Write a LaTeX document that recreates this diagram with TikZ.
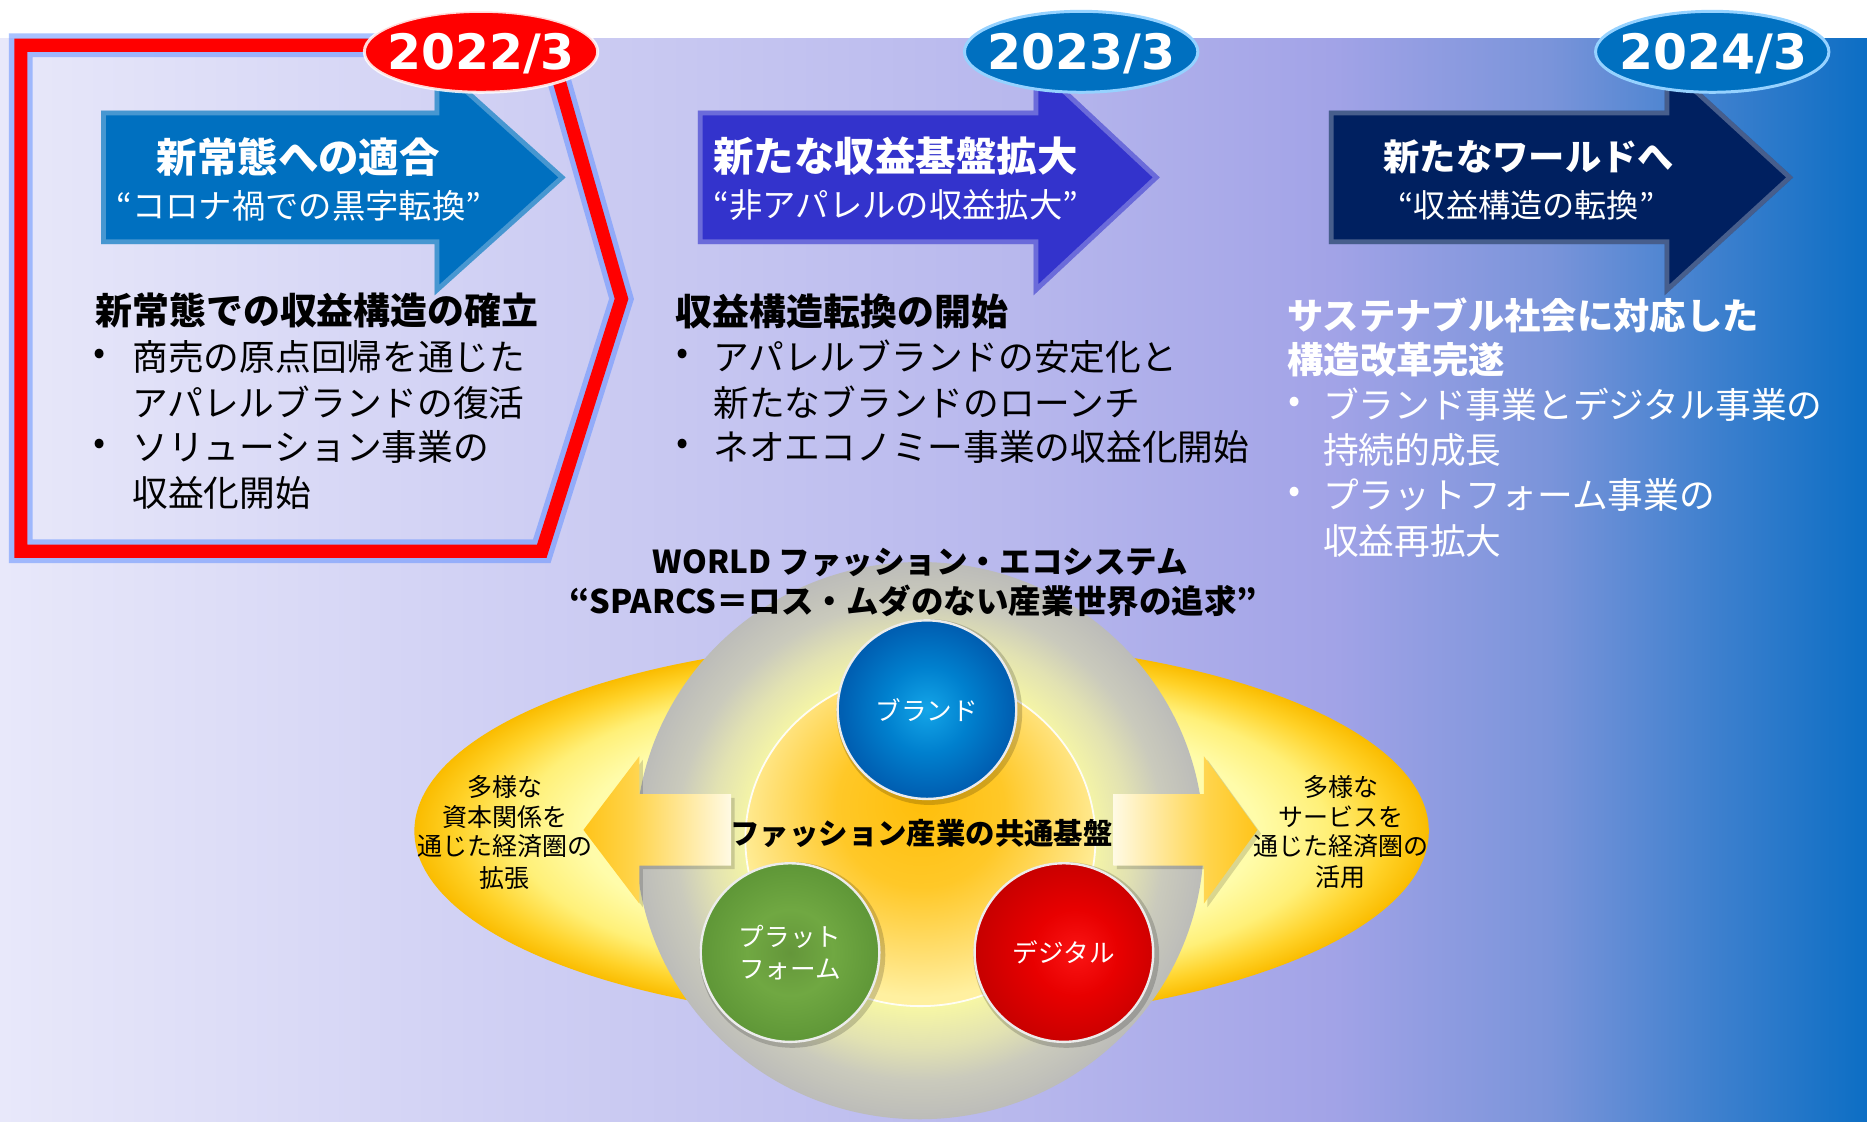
\documentclass[tikz,border=0pt]{standalone}
\usepackage{fontspec}
\setmainfont{Noto Sans CJK JP}
\newfontfamily\yearfont{DejaVu Sans}
\usetikzlibrary{shapes.geometric}

\definecolor{bg0}{RGB}{232,232,250}
\definecolor{bg1}{RGB}{206,206,243}
\definecolor{bg2}{RGB}{184,184,237}
\definecolor{bg3}{RGB}{162,163,231}
\definecolor{bg4}{RGB}{122,148,218}
\definecolor{bg5}{RGB}{62,128,206}
\definecolor{bg6}{RGB}{12,110,196}
\pgfdeclarehorizontalshading{bgsh}{100bp}{color(0bp)=(bg0); color(25bp)=(bg0); color(39.3bp)=(bg1); color(52.1bp)=(bg2); color(60.7bp)=(bg3); color(66.5bp)=(bg4); color(70.9bp)=(bg5); color(75bp)=(bg6); color(100bp)=(bg6)}

\definecolor{arrA}{RGB}{0,112,192}
\definecolor{arrB}{RGB}{51,51,204}
\definecolor{arrC}{RGB}{0,32,96}
\definecolor{yrblue}{RGB}{0,112,192}
\definecolor{yrrim}{RGB}{150,210,255}
\definecolor{yrred}{RGB}{255,0,0}
\definecolor{frred}{RGB}{255,0,0}
\definecolor{frglow}{RGB}{100,145,255}

\definecolor{ye0}{RGB}{255,255,192}
\definecolor{ye1}{RGB}{255,252,170}
\definecolor{ye2}{RGB}{255,240,120}
\definecolor{ye3}{RGB}{255,210,40}
\definecolor{ye4}{RGB}{250,188,0}
\pgfdeclareradialshading{yelsh}{\pgfpointorigin}{color(0bp)=(ye0); color(16.5bp)=(ye1); color(20bp)=(ye2); color(23bp)=(ye3); color(25bp)=(ye4); color(50bp)=(ye4)}

\definecolor{gr0}{RGB}{255,255,175}
\definecolor{gr1}{RGB}{246,246,165}
\definecolor{gr2}{RGB}{226,226,178}
\definecolor{gr3}{RGB}{202,202,188}
\definecolor{gr4}{RGB}{188,188,185}
\pgfdeclareradialshading{grsh}{\pgfpointorigin}{color(0bp)=(gr0); color(15bp)=(gr1); color(18.5bp)=(gr2); color(21.5bp)=(gr3); color(25bp)=(gr4); color(50bp)=(gr4)}

\definecolor{go0}{RGB}{255,190,10}
\definecolor{go1}{RGB}{255,200,40}
\definecolor{go2}{RGB}{255,225,120}
\definecolor{go3}{RGB}{255,240,160}
\pgfdeclareradialshading{gosh}{\pgfpoint{0bp}{6bp}}{color(0bp)=(go0); color(12bp)=(go1); color(22bp)=(go2); color(27bp)=(go3); color(60bp)=(go3)}

\definecolor{sa0}{RGB}{255,196,25}
\definecolor{sa1}{RGB}{255,212,75}
\definecolor{sa2}{RGB}{255,250,228}
\pgfdeclarehorizontalshading{lash}{100bp}{color(0bp)=(sa0); color(25bp)=(sa0); color(42bp)=(sa1); color(75bp)=(sa2); color(100bp)=(sa2)}
\pgfdeclarehorizontalshading{rash}{100bp}{color(0bp)=(sa2); color(25bp)=(sa2); color(58bp)=(sa1); color(75bp)=(sa0); color(100bp)=(sa0)}

\definecolor{bl0}{RGB}{20,165,232}
\definecolor{bl1}{RGB}{0,128,206}
\definecolor{bl2}{RGB}{0,95,178}
\pgfdeclareradialshading{blsh}{\pgfpointorigin}{color(0bp)=(bl0); color(12bp)=(bl1); color(24bp)=(bl2); color(25bp)=(bl2); color(50bp)=(bl2)}
\definecolor{gn0}{RGB}{100,150,58}
\definecolor{gn1}{RGB}{112,168,66}
\definecolor{gn2}{RGB}{96,152,56}
\pgfdeclareradialshading{gnsh}{\pgfpointorigin}{color(0bp)=(gn0); color(12bp)=(gn1); color(24bp)=(gn2); color(25bp)=(gn2); color(50bp)=(gn2)}
\definecolor{rd0}{RGB}{250,20,20}
\definecolor{rd1}{RGB}{232,0,0}
\definecolor{rd2}{RGB}{200,0,0}
\pgfdeclareradialshading{rdsh}{\pgfpoint{4bp}{0bp}}{color(0bp)=(rd0); color(12bp)=(rd1); color(26bp)=(rd2); color(50bp)=(rd2)}

\newcommand\blkarr[4]{%
  \fill[#4] (#1,93) -- (#2,93) -- (#2,50) -- (#3,149) -- (#2,248) -- (#2,205) -- (#1,205) -- cycle;
  \begin{scope}
    \clip (#1,93) -- (#2,93) -- (#2,50) -- (#3,149) -- (#2,248) -- (#2,205) -- (#1,205) -- cycle;
    \draw[white, opacity=.28, line width=8, line join=miter] (#1,93) -- (#2,93) -- (#2,50) -- (#3,149) -- (#2,248) -- (#2,205) -- (#1,205) -- cycle;
  \end{scope}}

\tikzset{
  ttl/.style={font=\fontsize{#1}{#1}\selectfont\bfseries, text=white, inner sep=0pt, anchor=center},
  subttl/.style={font=\fontsize{#1}{#1}\selectfont, text=white, inner sep=0pt, anchor=center},
  yeartxt/.style={font=\yearfont\fontsize{41}{41}\selectfont\bfseries, text=white, inner sep=0pt, anchor=center},
  bhead/.style={font=\fontsize{#1}{#1}\selectfont\bfseries, inner sep=0pt, anchor=west},
  btxt/.style={font=\fontsize{30}{30}\selectfont, inner sep=0pt, anchor=west},
  bdot/.style={font=\fontsize{30}{30}\selectfont, inner sep=0pt, anchor=center},
  wtitle/.style={font=\fontsize{#1}{#1}\selectfont\bfseries, text=black, inner sep=0pt, anchor=center},
  coretxt/.style={font=\fontsize{24.7}{24.7}\selectfont\bfseries, text=black, inner sep=0pt, anchor=center},
  sidetxt/.style={font=\fontsize{21}{21}\selectfont, text=black, inner sep=0pt, anchor=center},
  ball/.style={circle, minimum size=150pt, inner sep=0pt, draw=white!85!gray, line width=2pt, text=white, font=\fontsize{21.5}{27}\selectfont, align=center},
  ballshadow/.style={fill=black, opacity=.18}
}

\begin{document}
\begin{tikzpicture}[x=1pt,y=-1pt]
\useasboundingbox (0,0) rectangle (1568,942);
\clip (0,0) rectangle (1568,942);
\fill[white] (0,0) rectangle (1568,942);
\shade[shading=bgsh] (0,32) rectangle (1568,942);

% red frame
\draw[frglow, opacity=.55, line width=20pt, line join=miter] (17.5,38) -- (461,38) -- (522,251) -- (455,463) -- (17.5,463) -- cycle;
\draw[frred, line width=11pt, line join=miter] (17.5,38) -- (461,38) -- (522,251) -- (455,463) -- (17.5,463) -- cycle;

% block arrows
\blkarr{85}{365}{475}{arrA}
\blkarr{586}{868}{974}{arrB}
\blkarr{1116}{1398}{1506}{arrC}

% year ellipses
\fill[yrred] (404,43.5) ellipse [x radius=98, y radius=34];
\draw[white, opacity=.85, line width=2.5pt] (404,43.5) ellipse [x radius=98, y radius=34];
\fill[yrblue] (908,43.5) ellipse [x radius=98, y radius=34];
\draw[yrrim, line width=2.5pt] (908,43.5) ellipse [x radius=98, y radius=34];
\fill[yrblue] (1438,43.5) ellipse [x radius=98, y radius=34];
\draw[yrrim, line width=2.5pt] (1438,43.5) ellipse [x radius=98, y radius=34];
\node[yeartxt] (y22) at (404,45) {2022/3};
\node[yeartxt] (y23) at (908,45) {2023/3};
\node[yeartxt] (y24) at (1439,45) {2024/3};

% arrow texts
\node[ttl=34] (t1a) at (250.5,131.5) {新常態への適合};
\node[subttl=28] (t1b) at (251,173) {“コロナ禍での黒字転換”};
\node[ttl=34] (t2a) at (752,131.5) {新たな収益基盤拡大};
\node[subttl=28] (t2b) at (752.5,172) {“非アパレルの収益拡大”};
\node[ttl=30.5] (t3a) at (1284,132) {新たなワールドへ};
\node[subttl=27] (t3b) at (1282,172) {“収益構造の転換”};

% block 1
\node[bhead=31] (b1h) at (80,261) {新常態での収益構造の確立};
\node[bdot] (b1p) at (84,300) {•};
\node[btxt] (b1a) at (111,300) {商売の原点回帰を通じた};
\node[btxt] (b1b) at (111,338) {アパレルブランドの復活};
\node[bdot] (b1q) at (84,375) {•};
\node[btxt] (b1c) at (111,375) {ソリューション事業の};
\node[btxt] (b1d) at (111,414) {収益化開始};

% block 2
\node[bhead=31] (b2h) at (567.5,262) {収益構造転換の開始};
\node[bdot] (b2p) at (573,300) {•};
\node[btxt] (b2a) at (599,300) {アパレルブランドの安定化と};
\node[btxt] (b2b) at (599,338) {新たなブランドのローンチ};
\node[bdot] (b2q) at (573,375) {•};
\node[btxt] (b2c) at (599,375) {ネオエコノミー事業の収益化開始};

% block 3
\node[bhead=30.5, text=white] (b3h) at (1081,265) {サステナブル社会に対応した};
\node[bhead=30.5, text=white] (b3i) at (1081,302) {構造改革完遂};
\node[bdot, text=white] (b3p) at (1087,340) {•};
\node[btxt, text=white] (b3a) at (1111,340) {ブランド事業とデジタル事業の};
\node[btxt, text=white] (b3b) at (1111,378) {持続的成長};
\node[bdot, text=white] (b3q) at (1087,416) {•};
\node[btxt, text=white] (b3c) at (1111,416) {プラットフォーム事業の};
\node[btxt, text=white] (b3d) at (1111,454) {収益再拡大};

% ecosystem
\shade[shading=yelsh] (774,698) ellipse [x radius=426, y radius=160];
\shade[shading=grsh] (772.5,706) ellipse [x radius=238.5, y radius=234];
\shade[shading=gosh] (773,705) ellipse [x radius=147, y radius=140];
\draw[white, line width=1.5pt, opacity=.9] (773,705) ellipse [x radius=147, y radius=140];
\fill[black, opacity=.15] (493,700) -- (540,638) -- (540,670) -- (617,670) -- (617,730) -- (540,730) -- (540,762) -- cycle;
\fill[black, opacity=.15] (938,670) -- (1014,670) -- (1014,638) -- (1059,700) -- (1014,762) -- (1014,730) -- (938,730) -- cycle;
\shade[shading=lash] (490,697) -- (537,635) -- (537,667) -- (614,667) -- (614,727) -- (537,727) -- (537,759) -- cycle;
\shade[shading=rash] (935,667) -- (1011,667) -- (1011,635) -- (1056,697) -- (1011,759) -- (1011,727) -- (935,727) -- cycle;
\node[coretxt] (core) at (774,700) {ファッション産業の共通基盤};

\fill[ballshadow] (780.5,598) circle [radius=78];
\fill[ballshadow] (665.5,802) circle [radius=78];
\fill[ballshadow] (895.5,802) circle [radius=78];
\node[ball, shading=blsh] (brand) at (778.5,596) {ブランド};
\node[ball, shading=gnsh] (plat) at (663.5,800) {プラット\\フォーム};
\node[ball, shading=rdsh] (digi) at (893.5,800) {デジタル};

\node[sidetxt] (l1) at (424,661) {多様な};
\node[sidetxt] (l2) at (424,686) {資本関係を};
\node[sidetxt] (l3) at (424,711) {通じた経済圏の};
\node[sidetxt] (l4) at (424,737) {拡張};
\node[sidetxt] (r1) at (1126,661) {多様な};
\node[sidetxt] (r2) at (1126,686) {サービスを};
\node[sidetxt] (r3) at (1126,711) {通じた経済圏の};
\node[sidetxt] (r4) at (1126,737) {活用};

\node[wtitle=26.5] (w1) at (773,472) {WORLD ファッション・エコシステム};
\node[wtitle=27.3] (w2) at (767,504.6) {“SPARCS＝ロス・ムダのない産業世界の追求”};
\end{tikzpicture}
\end{document}
